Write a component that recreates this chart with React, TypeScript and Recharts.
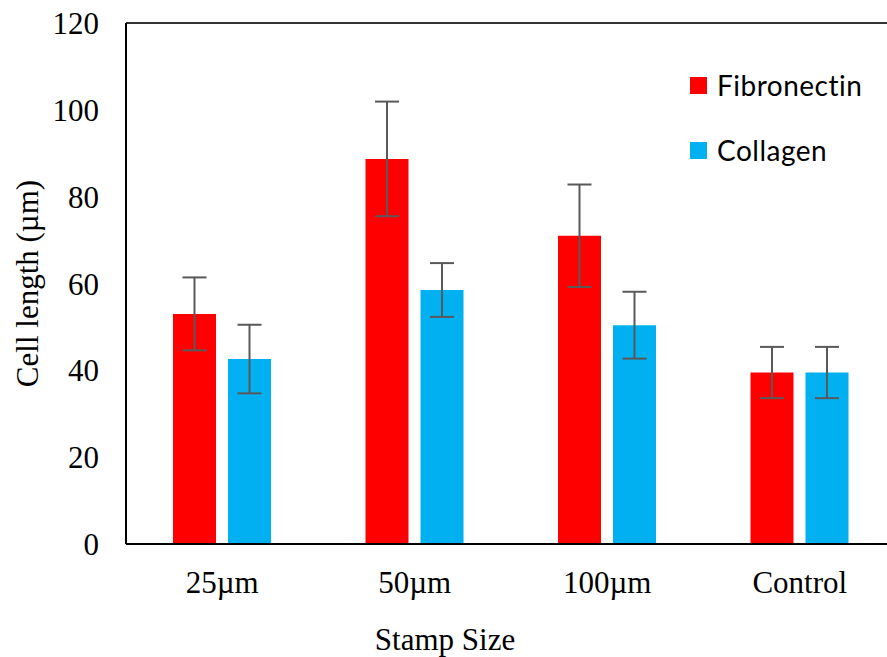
import React from 'react';
import { BarChart, Bar, XAxis, YAxis, ErrorBar, ReferenceLine, Legend, Label } from 'recharts';

const categories = ['25µm', '50µm', '100µm', 'Control'];
const seriesNames = ['Fibronectin', 'Collagen'];
const fibronectin = [53, 88.7, 71, 39.5];
const fibronectinErr = [8.4, 13.2, 11.8, 5.9];
const collagen = [42.6, 58.5, 50.4, 39.5];
const collagenErr = [7.9, 6.2, 7.7, 5.9];
const yTicks = [0, 20, 40, 60, 80, 100, 120];

const data = categories.map((c, i) => ({
  name: c,
  Fibronectin: fibronectin[i],
  fibErr: fibronectinErr[i],
  Collagen: collagen[i],
  colErr: collagenErr[i],
}));

const serif = '"Liberation Serif", "Times New Roman", serif';
const FS = 31;

const LegendContent = (props: any) => {
  const payload = [...(props.payload || [])].sort(
    (a: any, b: any) => seriesNames.indexOf(a.value) - seriesNames.indexOf(b.value)
  );
  return (
    <div style={{ fontFamily: 'Lato, "Noto Sans", sans-serif', fontSize: 28, letterSpacing: 0.5, color: '#000' }}>
      {payload.map((it: any, i: number) => (
        <div key={it.value} style={{ display: 'flex', alignItems: 'center', height: 34, marginBottom: i === 0 ? 31 : 0 }}>
          <span style={{ display: 'inline-block', width: 17, height: 17, background: it.color, marginRight: 10 }} />
          <span>{it.value}</span>
        </div>
      ))}
    </div>
  );
};

const XTitle = (props: any) => {
  const vb = props.viewBox || {};
  return (
    <text
      x={vb.x + vb.width / 2 - 66}
      y={vb.y + vb.height - 7}
      textAnchor="middle"
      fontFamily={serif}
      fontSize={FS}
      fill="#000"
    >
      Stamp Size
    </text>
  );
};

export default function App() {
  return (
    <div style={{ position: 'fixed', left: 0, top: 0, width: 887, height: 657, overflow: 'hidden', background: '#fff' }}>
      <BarChart
        width={900}
        height={657}
        data={data}
        margin={{ top: 23, right: 4, bottom: 0, left: 0 }}
        barSize={43}
        barGap={12}
      >
        <XAxis
          dataKey="name"
          height={113}
          axisLine={{ stroke: '#000', strokeWidth: 2 }}
          tickLine={false}
          tickSize={0}
          tickMargin={27}
          tick={{ fill: '#000', fontFamily: serif, fontSize: FS }}
          interval={0}
        >
          <Label content={<XTitle />} />
        </XAxis>
        <YAxis
          width={126}
          domain={[0, 120]}
          ticks={yTicks}
          axisLine={{ stroke: '#000', strokeWidth: 2 }}
          tickLine={false}
          tickSize={0}
          tickMargin={27}
          tick={{ fill: '#000', fontFamily: serif, fontSize: FS }}
        >
          <Label
            value="Cell length (µm)"
            angle={-90}
            position="insideLeft"
            offset={27}
            style={{ textAnchor: 'middle', fontFamily: serif, fontSize: FS, fill: '#000' }}
          />
        </YAxis>
        <ReferenceLine y={120} stroke="#333" strokeWidth={2} />
        <Legend
          layout="vertical"
          verticalAlign="middle"
          align="center"
          content={<LegendContent />}
          wrapperStyle={{ top: 68, left: 690, width: 195, height: 100 }}
        />
        <Bar dataKey="Fibronectin" fill="#FF0000" isAnimationActive={false}>
          <ErrorBar dataKey="fibErr" width={12} stroke="#595959" strokeWidth={2} />
        </Bar>
        <Bar dataKey="Collagen" fill="#00B0F0" isAnimationActive={false}>
          <ErrorBar dataKey="colErr" width={12} stroke="#595959" strokeWidth={2} />
        </Bar>
      </BarChart>
    </div>
  );
}
